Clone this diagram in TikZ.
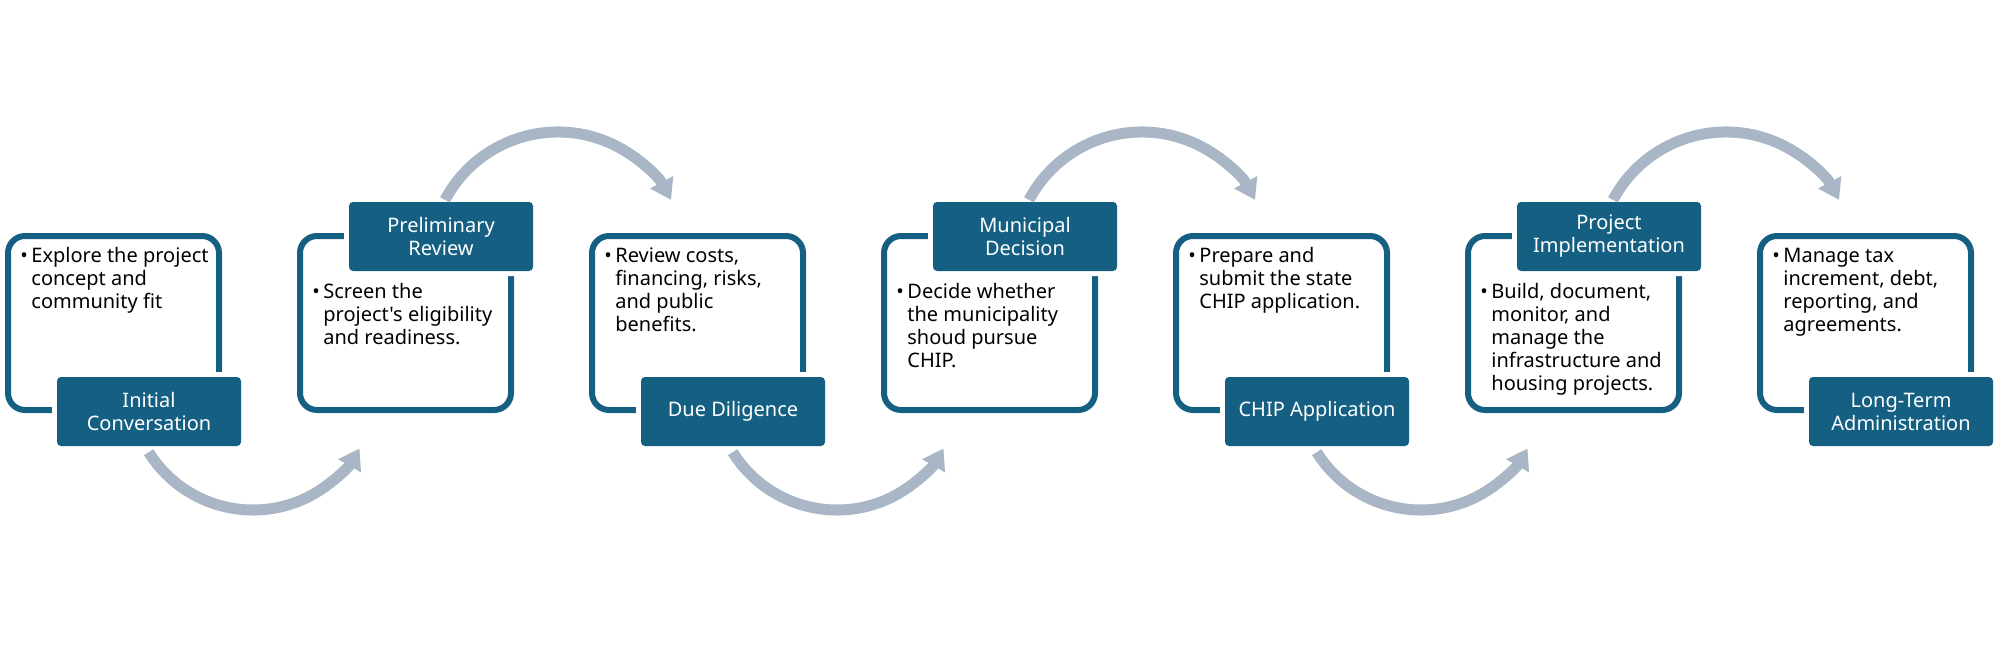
\documentclass[tikz,border=0pt]{standalone}
\usepackage{fontspec}
\setmainfont{Noto Sans}[Ligatures=TeXOff]
\usetikzlibrary{arrows.meta}
\definecolor{stagecol}{HTML}{156082}
\definecolor{arrowcol}{HTML}{A9B6C6}
\newcommand{\btext}[1]{\begin{tabular}[t]{@{}l@{}}#1\end{tabular}}
\begin{document}
\begin{tikzpicture}[x=0.5pt, y=-0.5pt,
  stagebox/.style={draw=stagecol, line width=3pt, rounded corners=8.5pt,
    minimum width=105.5pt, minimum height=87pt, inner sep=0pt, fill=white},
  stagelabel/.style={fill=stagecol, text=white, rounded corners=2pt,
    minimum width=92pt, minimum height=34.5pt, inner sep=0pt, align=center,
    font=\fontsize{10pt}{11.5pt}\selectfont,
    preaction={draw=white, line width=5pt}},
  bodytext/.style={anchor=base west, inner sep=0pt,
    font=\fontsize{10pt}{11.5pt}\selectfont, text=black},
  flow/.style={draw=arrowcol, line width=5.5pt,
    -{Triangle[width=12.5pt,length=10pt]}}]
\useasboundingbox (0,0) rectangle (2000,647);

% outline boxes
\node[stagebox] (box1) at (113.5,323) {};
\node[stagebox] (box2) at (405.5,323) {};
\node[stagebox] (box3) at (697.5,323) {};
\node[stagebox] (box4) at (989.5,323) {};
\node[stagebox] (box5) at (1281.5,323) {};
\node[stagebox] (box6) at (1573.5,323) {};
\node[stagebox] (box7) at (1865.5,323) {};

% labels
\node[stagelabel] (lab1) at (149,411.5) {Initial\\Conversation};
\node[stagelabel] (lab2) at (441,236.5) {Preliminary\\Review};
\node[stagelabel] (lab3) at (733,411.5) {Due Diligence};
\node[stagelabel] (lab4) at (1025,236.5) {Municipal\\Decision};
\node[stagelabel] (lab5) at (1317,411.5) {CHIP Application};
\node[stagelabel] (lab6) at (1609,236.5) {Project\\Implementation};
\node[stagelabel] (lab7) at (1901,411.5) {Long-Term\\Administration};

% bullets
\node[bodytext] (b1) at (20,262) {•};
\node[bodytext] (b2) at (312,298) {•};
\node[bodytext] (b3) at (604,262) {•};
\node[bodytext] (b4) at (896,298) {•};
\node[bodytext] (b5) at (1188,262) {•};
\node[bodytext] (b6) at (1480,298) {•};
\node[bodytext] (b7) at (1772,262) {•};

% body texts
\node[bodytext] (t1) at (31,262) {\btext{Explore the project\\concept and\\community fit}};
\node[bodytext] (t2) at (323,298) {\btext{Screen the\\project's eligibility\\and readiness.}};
\node[bodytext] (t3) at (615,262) {\btext{Review costs,\\financing, risks,\\and public\\benefits.}};
\node[bodytext] (t4) at (907,298) {\btext{Decide whether\\the municipality\\shoud pursue\\CHIP.}};
\node[bodytext] (t5) at (1199,262) {\btext{Prepare and\\submit the state\\CHIP application.}};
\node[bodytext] (t6) at (1491,298) {\btext{Build, document,\\monitor, and\\manage the\\infrastructure and\\housing projects.}};
\node[bodytext] (t7) at (1783,262) {\btext{Manage tax\\increment, debt,\\reporting, and\\agreements.}};

% arc centres
\coordinate (cb1) at (253,387);
\coordinate (cb2) at (837,387);
\coordinate (cb3) at (1421,387);
\coordinate (ct1) at (558,260);
\coordinate (ct2) at (1142,260);
\coordinate (ct3) at (1726,260);

% curved arrows
\draw[flow] (cb1) ++(-148:61.5pt) arc[start angle=-148, end angle=-30, radius=61.5pt];
\draw[flow] (cb2) ++(-148:61.5pt) arc[start angle=-148, end angle=-30, radius=61.5pt];
\draw[flow] (cb3) ++(-148:61.5pt) arc[start angle=-148, end angle=-30, radius=61.5pt];
\draw[flow] (ct1) ++(152:64pt) arc[start angle=152, end angle=28, radius=64pt];
\draw[flow] (ct2) ++(152:64pt) arc[start angle=152, end angle=28, radius=64pt];
\draw[flow] (ct3) ++(152:64pt) arc[start angle=152, end angle=28, radius=64pt];
\end{tikzpicture}
\end{document}
